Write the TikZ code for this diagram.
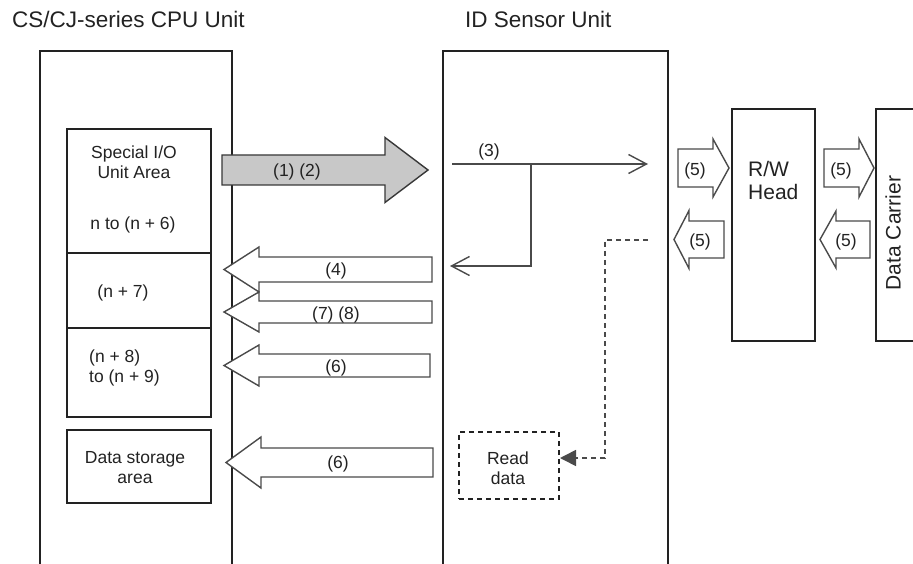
\documentclass[tikz,border=0pt]{standalone}
\usepackage{fontspec}
\setmainfont{Liberation Sans}
\usetikzlibrary{arrows.meta}
\definecolor{ink}{HTML}{222222}
\definecolor{arr}{HTML}{4A4A4A}
\definecolor{grayfill}{HTML}{C8C8C8}
\newcommand{\blkarrow}[7][]{%
  \draw[blk,#1] (#2,#3) -- (#4,#3-#5) -- (#4,#3-#6) -- (#7,#3-#6) -- (#7,#3+#6) -- (#4,#3+#6) -- (#4,#3+#5) -- cycle;}
\begin{document}
\begin{tikzpicture}[x=1pt,y=-1pt,
  unitline/.style={draw=ink,line width=2pt},
  innerbox/.style={draw=ink,line width=1.8pt},
  blk/.style={draw=arr,line width=1.4pt,fill=white,line join=miter},
  body/.style={inner sep=0pt,text=ink,font=\fontsize{17.5}{20}\selectfont},
  big/.style={inner sep=0pt,text=ink,font=\fontsize{21}{23}\selectfont},
  title/.style={inner sep=0pt,text=ink,font=\fontsize{22.5}{25}\selectfont},
  thin/.style={draw=arr,line width=1.4pt},
  openhead/.style={-{Straight Barb[length=18pt,width=19pt,line width=1.4pt]}},
  dashline/.style={draw=ink,line width=1.6pt,dash pattern=on 5pt off 4pt}]
\useasboundingbox (0,0) rectangle (913,564);

% titles
\node[title,anchor=west] (tcpu) at (12,19) {CS/CJ-series CPU Unit};
\node[title,anchor=west] (tids) at (465,19) {ID Sensor Unit};

% unit outlines (open at the bottom)
\draw[unitline] (40,564) -- (40,51) -- (232,51) -- (232,564);
\draw[unitline] (443,564) -- (443,51) -- (668,51) -- (668,564);

% memory boxes in CPU unit
\node[innerbox,minimum width=144pt,minimum height=288pt,inner sep=0pt] (sio) at (139,273) {};
\draw[innerbox] (67,253) -- (211,253);
\draw[innerbox] (67,328) -- (211,328);
\node[innerbox,minimum width=144pt,minimum height=73pt,inner sep=0pt] (ds) at (139,466.5) {};

\node[body,align=center] (tsio) at (134,162) {Special I/O\\Unit Area};
\node[body] (tn6) at (133,225) {n to (n + 6)};
\node[body] (tn7) at (123,293) {(n + 7)};
\node[body,align=left,anchor=west] (tn8) at (89,367.5) {(n + 8)\\to (n + 9)};
\node[body,align=center] (tds) at (135,467.5) {Data storage\\area};

% R/W head and data carrier
\node[unitline,minimum width=83pt,minimum height=232pt,inner sep=0pt] (rw) at (773.5,225) {};
\node[big,align=left,anchor=west] (trw) at (748,180.5) {R/W\\Head};
\draw[unitline] (913,109) -- (876,109) -- (876,341) -- (913,341);
\node[big,rotate=90] (tdc) at (893,233) {Data Carrier};

% big gray arrow (1) (2)
\blkarrow[fill=grayfill,draw=ink!90]{428}{170}{385}{32.5}{15}{222}
\node[body] (l12) at (297,172) {(1) (2)};

% return arrows to CPU unit
\blkarrow{224}{269.5}{259}{22.5}{12.5}{432}
\node[body] (l4) at (336,271) {(4)};
\blkarrow{224}{312}{259}{20}{11}{432}
\node[body] (l78) at (336,315) {(7) (8)};
\blkarrow{224}{365.5}{259}{20.5}{11.5}{430}
\node[body] (l6a) at (336,368) {(6)};
\blkarrow{226}{462.5}{261}{25.5}{14.5}{433}
\node[body] (l6b) at (338,464) {(6)};

% (5) arrows
\blkarrow{729}{168}{713}{29}{19}{678}
\node[body] (l5a) at (695,171) {(5)};
\blkarrow{674}{239.5}{689}{29}{18.5}{724}
\node[body] (l5b) at (700,242) {(5)};
\blkarrow{874}{168}{859}{29}{19}{824}
\node[body] (l5c) at (841,171) {(5)};
\blkarrow{820}{239.5}{836}{28.5}{18.5}{870}
\node[body] (l5d) at (846,242) {(5)};

% (3) internal signal lines
\coordinate (s3) at (452,164);
\coordinate (e3) at (648,164);
\coordinate (b3) at (531,164);
\coordinate (r3) at (450,266);
\draw[thin,openhead] (s3) -- (e3);
\draw[thin,openhead] (b3) -- (531,266) -- (r3);
\node[body] (l3) at (489,152) {(3)};

% read data box and dashed path
\node[dashline,minimum width=100pt,minimum height=67pt,inner sep=0pt] (rd) at (509,465.5) {};
\node[body,align=center] (trd) at (508,468) {Read\\data};
\coordinate (d0) at (648,240);
\coordinate (d1) at (605,240);
\coordinate (d2) at (605,458);
\coordinate (d3) at (560,458);
\draw[dashline,-{Triangle[length=16pt,width=16pt]},arr] (d0) -- (d1) -- (d2) -- (d3);
\end{tikzpicture}
\end{document}
